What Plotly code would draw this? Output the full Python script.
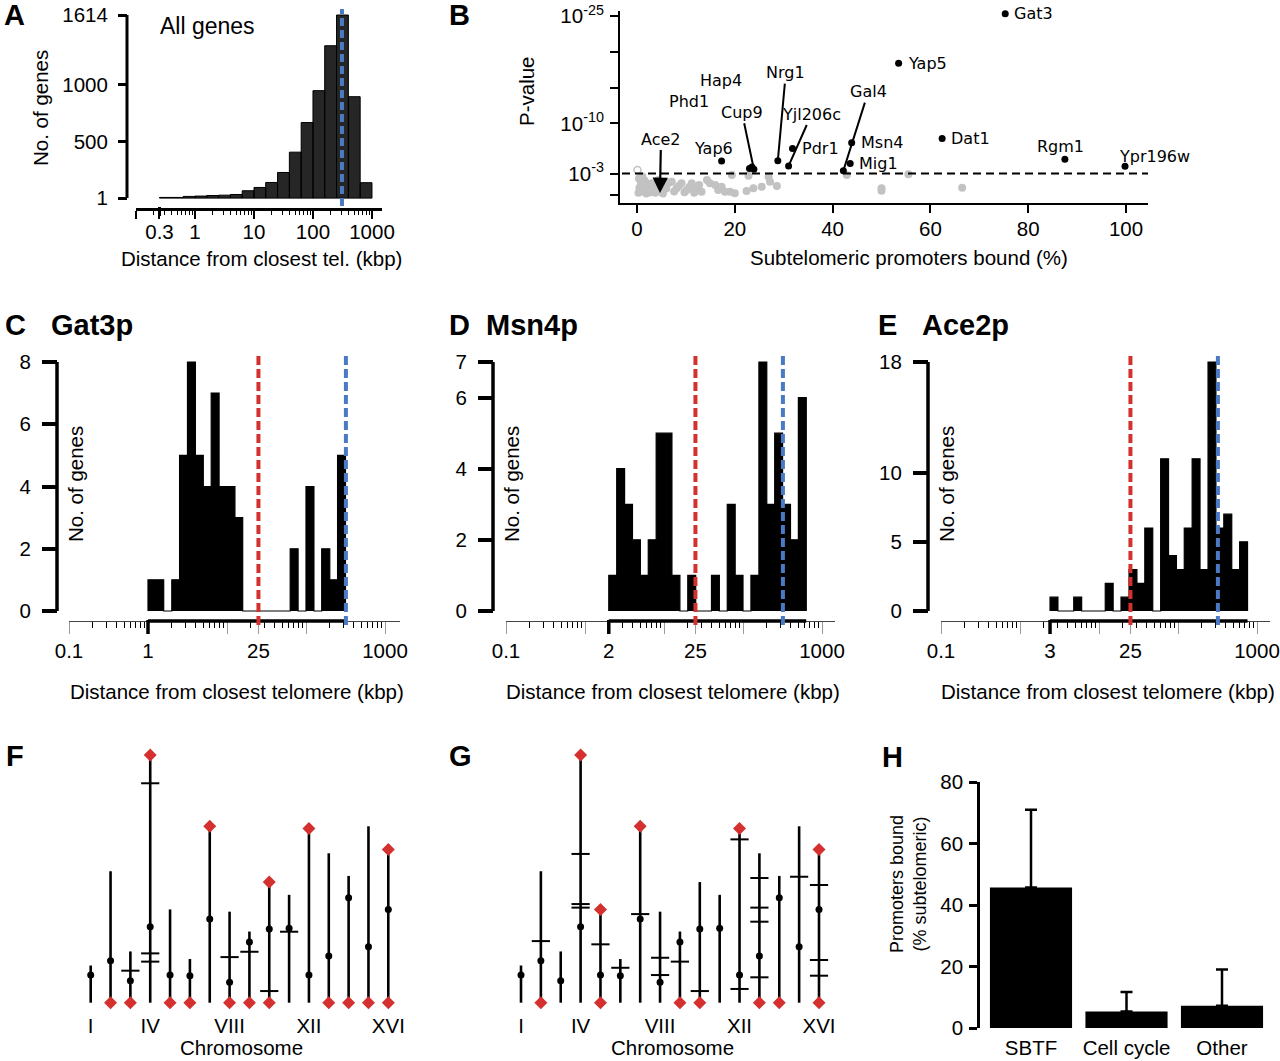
import plotly.graph_objects as go

W, H = 1280, 1061
FONT = "Liberation Sans, Arial, sans-serif"
LBLFONT = "DejaVu Sans, sans-serif"
RED = "#D3302F"
BLUE = "#4A7AC3"
GRAY = "#C2C2C2"

# ------------------------------------------------------------------ data
# Panel A: all genes, distance from closest telomere (kbp)
a_edges = [0.25, 0.4, 0.63, 1, 1.58, 2.51, 3.98, 6.31, 10, 15.8, 25.1, 39.8,
           63.1, 100, 158, 251, 398, 631, 1000]
a_counts = [6, 6, 15, 18, 23, 26, 32, 65, 94, 138, 226, 405, 666, 947, 1343,
            1614, 894, 136]
a_median_kbp = 310
a_yticks = [1, 500, 1000, 1614]

# Panel B: % subtelomeric promoters bound vs -log10(P)
b_gray_pct = [0.3, 0.5, 0.8, 1.0, 1.3, 1.6, 1.9, 2.2, 2.5, 0.4, 1.1, 2.8,
              3.0, 3.5, 3.8, 4.2, 4.4, 4.8, 5.3, 5.7, 6.0, 6.5, 7.1, 7.6,
              8.1, 8.6, 9.1, 9.7, 10.2, 10.7, 11.2, 11.7, 12.2, 12.7, 13.2,
              14.3, 14.9, 16.0, 16.6, 17.3, 18.0, 19.0, 19.4, 20.0, 22.4,
              22.8, 23.8, 25.5, 26.9, 27.2, 28.6, 42.9, 50.0, 50.0, 55.5, 66.5]
b_gray_logp = [0.3, 1.0, 1.8, 0.5, 1.2, 2.0, 0.2, 0.8, 1.5, 2.3, 2.6, 0.4,
               1.63, 1.0, 0.3, 1.3, 2.1, 0.6, 0.2, 1.4, 0.9, 1.7, 1.86, 0.5,
               0.93, 1.3, 1.63, 0.4, 0.7, 1.1, 1.63, 0.3, 0.93, 1.4, 0.47,
               2.1, 1.63, 1.4, 0.7, 1.16, 0.47, 0.47, 2.8, 0.23, 0.56,
               2.7, 0.93, 1.16, 2.56, 1.86, 1.26, 2.8, 0.93, 0.6, 2.9, 1.0]
b_open_pct = [0.1]
b_open_logp = [3.5]
b_tf = ["Gat3", "Yap5", "Nrg1", "Yjl206c", "Pdr1", "Yap6", "Hap4", "Phd1",
        "Cup9", "Gal4", "Msn4", "Mig1", "Dat1", "Rgm1", "Ypr196w"]
b_tf_pct = [75.3, 53.5, 28.8, 31.0, 31.8, 17.3, 23.0, 23.5, 23.9, 42.2, 43.9,
            43.6, 62.4, 87.5, 99.8]
b_tf_logp = [25.3, 18.4, 4.8, 4.05, 6.5, 4.75, 3.7, 3.9, 3.6, 3.4, 7.3, 4.4,
             7.9, 5.0, 4.0]
b_ace2 = (4.7, 0.28)
b_threshold = 3
b_yticks = [0, 3, 10, 15, 20, 25]
b_yticklabels = ["", "10<sup>-3</sup>", "10<sup>-10</sup>", "", "", "10<sup>-25</sup>"]
b_xticks = [0, 20, 40, 60, 80, 100]

# Panels C-E: bound genes, distance from closest telomere (kbp)
c_edges = [1, 1.26, 1.58, 2.0, 2.51, 3.16, 3.98, 5.01, 6.31, 7.94, 10, 12.6,
           15.8, 20.0, 25.1, 31.6, 39.8, 50.1, 63.1, 79.4, 100, 126, 158, 200,
           251, 316]
c_counts = [1, 1, 0, 1, 5, 8, 5, 4, 7, 4, 4, 3, 0, 0, 0, 0, 0, 0, 2, 0, 4, 0,
            2, 1, 5]
d_edges = [2.0, 2.52, 3.17, 3.99, 5.02, 6.32, 7.96, 10.0, 12.6, 15.9, 20.0,
           25.2, 31.7, 39.9, 50.2, 63.2, 79.6, 100, 126, 159, 200, 252, 317,
           399, 502, 632]
d_counts = [1, 4, 3, 2, 1, 2, 5, 5, 1, 0, 1, 0, 0, 1, 0, 3, 1, 0, 1, 7, 3, 5,
            3, 2, 6]
e_edges = [2.4, 3.02, 3.8, 4.79, 6.03, 7.59, 9.55, 12.0, 15.1, 19.0, 24.0,
           30.2, 38.0, 47.9, 60.3, 75.9, 95.5, 120, 151, 190, 240, 302, 380,
           479, 603, 759]
e_counts = [1, 0, 0, 1, 0, 0, 0, 2, 0, 1, 3, 2, 6, 0, 11, 4, 3, 6, 11, 3, 18,
            6, 7, 3, 5]
subtel_cutoff_kbp = 25
median_kbp = 320

# Panels F-G: chromosomes (kb)
chrom_len = [230, 813, 317, 1532, 577, 270, 1091, 563, 440, 746, 667, 1078,
             924, 784, 1091, 948]
cen_pos = [171, 260, 136, 470, 171, 167, 518, 126, 375, 456, 460, 171, 289,
           649, 346, 577]
chrom_tickvals = [1, 4, 8, 12, 16]
chrom_ticktext = ["I", "IV", "VIII", "XII", "XVI"]
f_tel_left = [2, 3, 5, 6, 8, 9, 10, 13, 14, 15, 16]
f_tel_right = [4, 7, 10, 12, 16]
f_gene_chr = [3, 4, 4, 4, 8, 9, 10, 11]
f_gene_kb = [198, 1357, 305, 254, 282, 315, 72, 439]
g_tel_left = [2, 5, 9, 10, 13, 14, 16]
g_tel_right = [4, 5, 7, 12, 16]
g_gene_chr = [2, 4, 4, 4, 5, 6, 7, 8, 8, 9, 10, 12, 12, 13, 13, 13, 13, 15,
              16, 16, 16]
g_gene_kb = [381, 920, 610, 588, 361, 216, 548, 278, 171, 254, 72, 1010, 85,
             771, 588, 501, 157, 779, 728, 264, 167]

# Panel H
h_cats = ["SBTF", "Cell cycle", "Other"]
h_vals = [45.7, 5.4, 7.2]
h_err_top = [71, 11.7, 19]


# ------------------------------------------------------------------ helpers
def px(x):
    return x / W


def py(y):
    return 1 - y / H


TF = dict(family=FONT, size=20.5, color="black")
fig = go.Figure()
shapes = []
annotations = []
layout = dict(template="none", width=W, height=H,
              margin=dict(l=0, r=0, t=0, b=0, pad=0, autoexpand=False),
              paper_bgcolor="white", plot_bgcolor="rgba(0,0,0,0)",
              showlegend=False, font=dict(family=FONT, color="black"))


def text(x, y, s, size=20.5, bold=False, angle=0, xanchor="center",
         family=FONT):
    if bold:
        s = "<b>" + s + "</b>"
    annotations.append(dict(x=px(x), y=py(y), xref="paper", yref="paper",
                            text=s, showarrow=False, textangle=angle,
                            xanchor=xanchor, yanchor="middle",
                            font=dict(family=family, size=size, color="black")))


def minor_vals(exclude):
    out = []
    for d in (-1, 0, 1, 2):
        for k in range(2, 10):
            v = round(k * 10 ** d, 6)
            if all(abs(v - e) > 1e-6 for e in exclude):
                out.append(v)
    return out


# ------------------------------------------------------------------ Panel A
xs, ys = [], []
for i, c in enumerate(a_counts):
    a0, a1 = a_edges[i], a_edges[i + 1]
    xs += [a0, a0, a1, a1, a0, None]
    ys += [0, c, c, 0, 0, None]
fig.add_trace(go.Scatter(x=xs, y=ys, mode="lines", fill="toself",
                         fillcolor="#262626", line=dict(color="black", width=1),
                         xaxis="x", yaxis="y", hoverinfo="skip"))
a_ppu = (198 - 15) / (1614 - 1)
layout["xaxis"] = dict(domain=[px(136), px(382)], type="log", range=[-1, 3.17],
                       anchor="y", showline=True, linewidth=2.5, linecolor="black",
                       tickmode="array", tickvals=[0.1, 0.25, 1, 10, 100, 1000],
                       ticktext=["", "0.3", "1", "10", "100", "1000"],
                       ticks="outside", ticklen=8, tickwidth=2, tickcolor="black",
                       minor=dict(tickmode="array", tickvals=minor_vals([0.1, 0.25, 1, 10, 100, 1000]),
                                  ticks="outside", ticklen=4, tickwidth=1.2,
                                  tickcolor="black", showgrid=False),
                       showgrid=False, zeroline=False, tickfont=TF,
                       ticklabelstandoff=-4, automargin=False)
layout["yaxis"] = dict(domain=[py(208), py(10)],
                       range=[1 - 10 / a_ppu, 1 + 188 / a_ppu],
                       anchor="free", position=px(127), showline=False,
                       tickmode="array", tickvals=a_yticks,
                       ticks="outside", ticklen=9, tickwidth=3, tickcolor="black",
                       showgrid=False, zeroline=False, tickfont=TF,
                       ticklabelstandoff=6, automargin=False)
shapes.append(dict(type="line", xref="paper", yref="y", x0=px(127), x1=px(127),
                   y0=a_yticks[0], y1=a_yticks[-1], line=dict(color="black", width=3)))
shapes.append(dict(type="line", xref="x", yref="paper",
                   x0=a_edges[0], x1=a_edges[0],
                   y0=py(207), y1=py(216), line=dict(color="black", width=3)))
shapes.append(dict(type="line", xref="x", yref="paper",
                   x0=a_median_kbp, x1=a_median_kbp,
                   y0=py(206), y1=py(9), line=dict(color=BLUE, width=4, dash="8px,4px")))
text(2, 15, "A", size=29, bold=True, xanchor="left")
text(207, 26, "All genes", size=23)
text(41, 108, "No. of genes", angle=-90)
text(261, 259, "Distance from closest tel. (kbp)")

# ------------------------------------------------------------------ Panel B
fig.add_trace(go.Scatter(x=b_gray_pct, y=b_gray_logp, mode="markers",
                         marker=dict(color=GRAY, size=8),
                         xaxis="x2", yaxis="y2", hoverinfo="skip", cliponaxis=False))
fig.add_trace(go.Scatter(x=b_open_pct, y=b_open_logp, mode="markers",
                         marker=dict(color="white", size=7, line=dict(color=GRAY, width=1.5)),
                         xaxis="x2", yaxis="y2", hoverinfo="skip", cliponaxis=False))
fig.add_trace(go.Scatter(x=b_tf_pct, y=b_tf_logp, mode="markers",
                         marker=dict(color="black", size=7),
                         xaxis="x2", yaxis="y2", hoverinfo="skip", cliponaxis=False))
layout["xaxis2"] = dict(domain=[px(620), px(1148)], range=[(620 - 637) / 4.89, (1148 - 637) / 4.89],
                        anchor="y2", showline=True, linewidth=2, linecolor="black",
                        tickmode="array", tickvals=b_xticks, ticks="outside",
                        ticklen=8, tickwidth=2, tickcolor="black",
                        showgrid=False, zeroline=False, tickfont=TF,
                        ticklabelstandoff=-2, automargin=False)
layout["yaxis2"] = dict(domain=[py(203), py(11)], range=[-8 / 7.16, (195 - 11) / 7.16],
                        anchor="x2", showline=True, linewidth=2, linecolor="black",
                        tickmode="array", tickvals=b_yticks, ticktext=b_yticklabels,
                        ticks="outside", ticklen=8, tickwidth=2, tickcolor="black",
                        showgrid=False, zeroline=False, tickfont=TF,
                        ticklabelstandoff=2, automargin=False)
shapes.append(dict(type="line", xref="paper", yref="y2", x0=px(622), x1=px(1148),
                   y0=b_threshold, y1=b_threshold,
                   line=dict(color="black", width=2.2, dash="8px,5px")))
LF = dict(family=LBLFONT, size=16, color="black")
# label placement (px offsets from the point): name -> (mode, dx, dy)
b_label_place = {
    "Gat3": ("right", 7, 0), "Yap5": ("right", 7, 0), "Pdr1": ("right", 7, 0),
    "Msn4": ("right", 7, 0), "Mig1": ("right", 7, 0), "Dat1": ("right", 7, 0),
    "Rgm1": ("free", -4, 13), "Ypr196w": ("free", 29, 10), "Yap6": ("free", -8, 12),
    "Hap4": ("free", -28, 88), "Phd1": ("free", -63, 66),
    "Cup9": ("arrow", -12, -57), "Nrg1": ("arrow", 8, -88),
    "Yjl206c": ("arrow", 23, -52), "Gal4": ("arrow", 25, -79),
}
for name, xv, yv in zip(b_tf, b_tf_pct, b_tf_logp):
    mode, ox, oy = b_label_place[name]
    if mode == "right":
        annotations.append(dict(x=xv, y=yv, xref="x2", yref="y2", text=name,
                                showarrow=False, xanchor="left", yanchor="middle",
                                xshift=ox, yshift=oy, font=LF))
    elif mode == "free":
        annotations.append(dict(x=xv, y=yv, xref="x2", yref="y2", text=name,
                                showarrow=False, xanchor="center", yanchor="middle",
                                xshift=ox, yshift=oy, font=LF))
    else:
        annotations.append(dict(x=xv, y=yv, xref="x2", yref="y2", text=name,
                                showarrow=True, arrowhead=0, arrowwidth=2,
                                arrowcolor="black", ax=ox, ay=oy, standoff=2,
                                font=LF))
annotations.append(dict(x=b_ace2[0], y=b_ace2[1], xref="x2", yref="y2", text="Ace2",
                        showarrow=True, arrowhead=2, arrowsize=1.4, arrowwidth=2.2,
                        arrowcolor="black", ax=1, ay=-54, font=LF))
text(447, 15, "B", size=29, bold=True, xanchor="left")
text(527, 91, "P-value", angle=-90)
text(909, 257, "Subtelomeric promoters bound (%)")

# ------------------------------------------------------------------ Panels C-E
panels = [
    dict(ax="3", edges=c_edges, counts=c_counts, x0=69, x1=400, yx=57, ymax=8,
         yt=[0, 2, 4, 6, 8], start_label="1", letter="C", lx=3, title="Gat3p", tx=49),
    dict(ax="4", edges=d_edges, counts=d_counts, x0=506, x1=835, yx=493, ymax=7,
         yt=[0, 2, 4, 6, 7], start_label="2", letter="D", lx=447, title="Msn4p", tx=484),
    dict(ax="5", edges=e_edges, counts=e_counts, x0=941, x1=1270, yx=928, ymax=18,
         yt=[0, 5, 10, 18], start_label="3", letter="E", lx=876, title="Ace2p", tx=920),
]
for p in panels:
    xa, ya = "x" + p["ax"], "y" + p["ax"]
    e, cnt = p["edges"], p["counts"]
    sx = [e[0]] + e[:-1] + [e[-1]]
    sy = [0] + cnt + [0]
    fig.add_trace(go.Scatter(x=sx, y=sy, mode="lines", line_shape="hv",
                             fill="tozeroy", fillcolor="black",
                             line=dict(color="black", width=1.2),
                             xaxis=xa, yaxis=ya, hoverinfo="skip"))
    ppu = (611 - 362) / p["ymax"]
    start = e[0]
    majors = sorted(set([0.1, 1, start, 10, subtel_cutoff_kbp, 100, 1000]))
    labels = []
    for v in majors:
        if v == 0.1:
            labels.append("0.1")
        elif v == start:
            labels.append(p["start_label"])
        elif v == subtel_cutoff_kbp:
            labels.append("25")
        elif v == 1000:
            labels.append("1000")
        else:
            labels.append("")
    layout["xaxis" + p["ax"]] = dict(
        domain=[px(p["x0"]), px(p["x1"])], type="log",
        range=[-1, -1 + (p["x1"] - p["x0"]) / 79.0], anchor=ya,
        showline=True, linewidth=1, linecolor="#444",
        tickmode="array", tickvals=majors, ticktext=labels,
        ticks="outside", ticklen=12, tickwidth=1, tickcolor="#9a9a9a",
        minor=dict(tickmode="array", tickvals=minor_vals(majors), ticks="outside",
                   ticklen=6, tickwidth=1, tickcolor="black", showgrid=False),
        showgrid=False, zeroline=False, tickfont=TF, ticklabelstandoff=-1,
        automargin=False)
    layout["yaxis" + p["ax"]] = dict(
        domain=[py(621), py(355)], range=[-10 / ppu, 256 / ppu],
        anchor="free", position=px(p["yx"]), showline=False,
        tickmode="array", tickvals=p["yt"], ticks="outside", ticklen=15,
        tickwidth=3.5, tickcolor="black", showgrid=False, zeroline=False,
        tickfont=TF, ticklabelstandoff=7, automargin=False)
    shapes.append(dict(type="line", xref="paper", yref=ya, x0=px(p["yx"]), x1=px(p["yx"]),
                       y0=0, y1=p["ymax"], line=dict(color="black", width=3.5)))
    shapes.append(dict(type="line", xref=xa, yref="paper", x0=e[0],
                       x1=e[-1], y0=py(621), y1=py(621),
                       line=dict(color="black", width=3.5)))
    shapes.append(dict(type="line", xref=xa, yref="paper", x0=e[0],
                       x1=e[0], y0=py(620), y1=py(634),
                       line=dict(color="black", width=3.5)))
    for val, col in ((subtel_cutoff_kbp, RED), (median_kbp, BLUE)):
        shapes.append(dict(type="line", xref=xa, yref="paper", x0=val,
                           x1=val, y0=py(625), y1=py(356),
                           line=dict(color=col, width=4, dash="9px,4px")))
    text(p["lx"], 325, p["letter"], size=29, bold=True, xanchor="left")
    text(p["tx"], 325, p["title"], size=29, bold=True, xanchor="left")
    text(p["yx"] + 18, 484, "No. of genes", angle=-90)
    text((p["x0"] + p["x1"]) / 2 + 2, 691, "Distance from closest telomere (kbp)")

# ------------------------------------------------------------------ Panels F-G
def chrom_panel(ax, tel_left, tel_right, gene_chr, gene_kb, x0, x1, c1, c16):
    xa, ya = "x" + ax, "y" + ax
    sp = (c16 - c1) / 15.0
    lx, ly = [], []
    for i, L in enumerate(chrom_len):
        lx += [i + 1, i + 1, None]
        ly += [0, L, None]
    fig.add_trace(go.Scatter(x=lx, y=ly, mode="lines",
                             line=dict(color="black", width=2.6),
                             xaxis=xa, yaxis=ya, hoverinfo="skip"))
    fig.add_trace(go.Scatter(x=gene_chr, y=gene_kb, mode="markers",
                             marker=dict(symbol="line-ew", size=13,
                                         line=dict(color="black", width=2)),
                             xaxis=xa, yaxis=ya, hoverinfo="skip", cliponaxis=False))
    fig.add_trace(go.Scatter(x=list(range(1, 17)), y=cen_pos, mode="markers",
                             marker=dict(color="black", size=7),
                             xaxis=xa, yaxis=ya, hoverinfo="skip"))
    dx = tel_left + tel_right
    dy = [0] * len(tel_left) + [chrom_len[c - 1] for c in tel_right]
    fig.add_trace(go.Scatter(x=dx, y=dy, mode="markers",
                             marker=dict(color=RED, size=10, symbol="diamond"),
                             xaxis=xa, yaxis=ya, hoverinfo="skip", cliponaxis=False))
    ppk = 0.1617
    layout["xaxis" + ax] = dict(domain=[px(x0), px(x1)],
                                range=[1 - (c1 - x0) / sp, 16 + (x1 - c16) / sp],
                                anchor=ya, showline=False, ticks="",
                                tickmode="array", tickvals=chrom_tickvals,
                                ticktext=chrom_ticktext, showgrid=False,
                                zeroline=False, tickfont=TF, ticklabelstandoff=1,
                                automargin=False)
    layout["yaxis" + ax] = dict(domain=[py(1010), py(745)],
                                range=[-(1010 - 1002.7) / ppk, (1002.7 - 745) / ppk],
                                anchor=xa, visible=False, showgrid=False,
                                zeroline=False, automargin=False)


chrom_panel("6", f_tel_left, f_tel_right, f_gene_chr, f_gene_kb, 78, 400, 90.7, 388.3)
chrom_panel("7", g_tel_left, g_tel_right, g_gene_chr, g_gene_kb, 508, 835, 521, 819)
text(4, 756, "F", size=29, bold=True, xanchor="left")
text(447, 756, "G", size=29, bold=True, xanchor="left")
text(241, 1047, "Chromosome")
text(672, 1047, "Chromosome")

# ------------------------------------------------------------------ Panel H
fig.add_trace(go.Bar(x=[0, 1, 2], y=h_vals, width=0.86, marker=dict(color="black", line=dict(width=0)),
                     error_y=dict(type="data", symmetric=False,
                                  array=[t - v for t, v in zip(h_err_top, h_vals)],
                                  arrayminus=[0, 0, 0], thickness=2.5, width=6,
                                  color="black"),
                     xaxis="x8", yaxis="y8", hoverinfo="skip"))
layout["xaxis8"] = dict(domain=[px(980), px(1275)], range=[-51 / 95.5, 2 + 53 / 95.5],
                        anchor="y8", showline=False, ticks="", tickmode="array",
                        tickvals=[0, 1, 2], ticktext=h_cats, showgrid=False,
                        zeroline=False, tickfont=TF, ticklabelstandoff=5,
                        automargin=False)
layout["yaxis8"] = dict(domain=[py(1028), py(782)], range=[0, 80], anchor="x8",
                        showline=True, linewidth=2.5, linecolor="black",
                        tickmode="array", tickvals=[0, 20, 40, 60, 80],
                        ticks="outside", ticklen=8, tickwidth=2.5, tickcolor="black",
                        showgrid=False, zeroline=False, tickfont=TF,
                        ticklabelstandoff=2, automargin=False)
text(880, 757, "H", size=29, bold=True, xanchor="left")
text(908, 884, "Promoters bound<br>(% subtelomeric)", size=18, angle=-90)

layout["shapes"] = shapes
layout["annotations"] = annotations
fig.update_layout(**layout)
fig.write_html("out.html")
